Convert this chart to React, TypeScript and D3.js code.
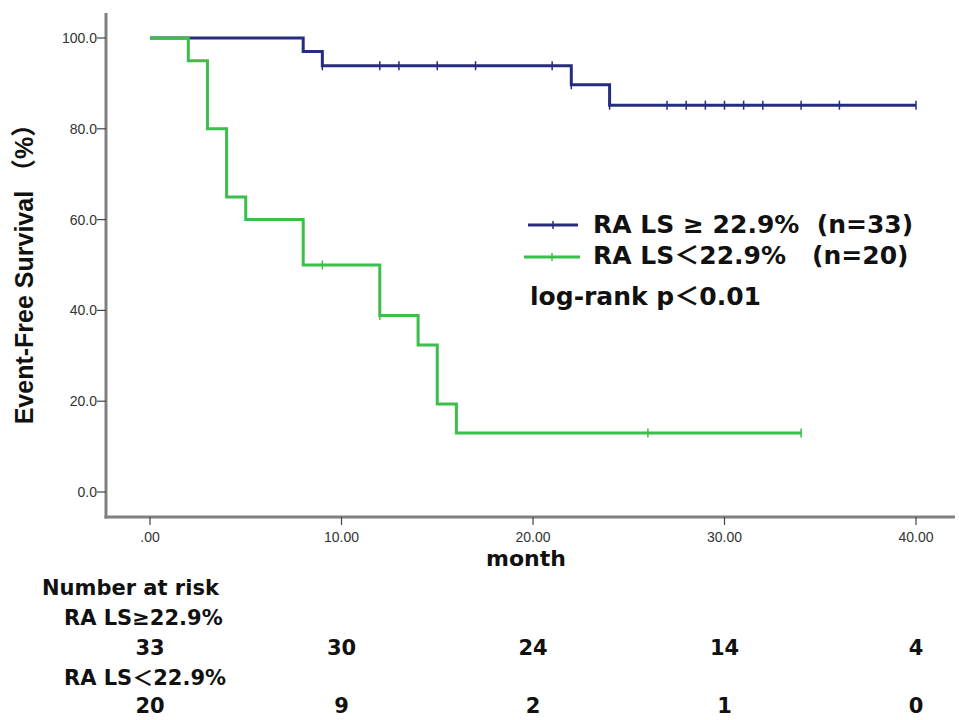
import React, { useEffect, useRef } from 'react';
import * as d3 from 'd3';

// Kaplan-Meier steps (month, survival %)
const highTimes = [0, 8, 9, 22, 24, 40];
const highSurv = [100, 97.0, 93.9, 89.7, 85.2, 85.2];
const highCensor = [9, 12, 13, 15, 17, 21, 22, 24, 27, 28, 29, 30, 31, 32, 34, 36, 40];

const lowTimes = [0, 2, 3, 4, 5, 8, 12, 14, 15, 16, 34];
const lowSurv = [100, 95, 80, 65, 60, 50, 38.9, 32.4, 19.4, 13.0, 13.0];
const lowCensor = [9, 12, 26, 34];

const xTicks = [0, 10, 20, 30, 40];
const yTicks = [0, 20, 40, 60, 80, 100];

const riskTimes = [0, 10, 20, 30, 40];
const highRisk = [33, 30, 24, 14, 4];
const lowRisk = [20, 9, 2, 1, 0];

const BLUE = "#262d7e";
const GREEN = "#3dbd4b";
const BOLD = "'DejaVu Sans', Verdana, 'Noto Sans CJK SC', sans-serif";
const ARIAL = "'Liberation Sans', Arial, 'Noto Sans CJK SC', sans-serif";

export default function App() {
  const svgRef = useRef<SVGSVGElement>(null);

  useEffect(() => {
    if (!svgRef.current) return;
    const svg = d3.select(svgRef.current);
    svg.selectAll("*").remove();

    const x = d3.scaleLinear().domain([0, 40]).range([150, 916]);
    const y = d3.scaleLinear().domain([0, 100]).range([492, 38]);

    const axisX = 106;
    const axisY = 517;

    // axes frame
    svg.append("line")
      .attr("x1", axisX).attr("x2", axisX).attr("y1", 13).attr("y2", axisY + 1.5)
      .attr("stroke", "#808080").attr("stroke-width", 3);
    svg.append("line")
      .attr("x1", axisX - 1.5).attr("x2", 955).attr("y1", axisY).attr("y2", axisY)
      .attr("stroke", "#808080").attr("stroke-width", 3);

    // y ticks
    const fmtY = d3.format(".1f");
    yTicks.forEach(t => {
      svg.append("line")
        .attr("x1", axisX - 9).attr("x2", axisX).attr("y1", y(t)).attr("y2", y(t))
        .attr("stroke", "#444").attr("stroke-width", 1.2);
      svg.append("text")
        .attr("x", axisX - 9).attr("y", y(t) + 5)
        .attr("text-anchor", "end")
        .attr("font-family", ARIAL).attr("font-size", 14).attr("fill", "#333")
        .text(fmtY(t));
    });

    // x ticks
    const fmtX = (v: number) => d3.format(".2f")(v).replace(/^0\./, ".");
    xTicks.forEach(t => {
      svg.append("line")
        .attr("x1", x(t)).attr("x2", x(t)).attr("y1", axisY).attr("y2", axisY + 8)
        .attr("stroke", "#444").attr("stroke-width", 1.2);
      svg.append("text")
        .attr("x", x(t)).attr("y", axisY + 25)
        .attr("text-anchor", "middle")
        .attr("font-family", ARIAL).attr("font-size", 14).attr("fill", "#333")
        .text(fmtX(t));
    });

    // survival curves
    const line = d3.line<[number, number]>()
      .x(d => x(d[0])).y(d => y(d[1]))
      .curve(d3.curveStepAfter);

    const survAt = (times: number[], surv: number[], t: number) => {
      let v = surv[0];
      times.forEach((tt, i) => { if (tt <= t) v = surv[i]; });
      return v;
    };

    const groups = [
      { times: highTimes, surv: highSurv, censor: highCensor, color: BLUE },
      { times: lowTimes, surv: lowSurv, censor: lowCensor, color: GREEN },
    ];

    groups.forEach(g => {
      const pts = g.times.map((t, i) => [t, g.surv[i]] as [number, number]);
      svg.append("path")
        .attr("d", line(pts))
        .attr("fill", "none")
        .attr("stroke", g.color)
        .attr("stroke-width", 3);
      g.censor.forEach(c => {
        const cy = y(survAt(g.times, g.surv, c));
        svg.append("line")
          .attr("x1", x(c)).attr("x2", x(c)).attr("y1", cy - 4.5).attr("y2", cy + 4.5)
          .attr("stroke", g.color).attr("stroke-width", 1.5);
      });
    });

    // legend
    const legend = [
      { color: BLUE, y: 225, x1: 528, x2: 578, textY: 233, label: "RA LS ≥ 22.9%  (n=33)" },
      { color: GREEN, y: 257, x1: 524, x2: 580, textY: 264, label: "RA LS＜22.9%   (n=20)" },
    ];
    legend.forEach(l => {
      svg.append("line")
        .attr("x1", l.x1).attr("x2", l.x2).attr("y1", l.y).attr("y2", l.y)
        .attr("stroke", l.color).attr("stroke-width", 3);
      svg.append("line")
        .attr("x1", (l.x1 + l.x2) / 2).attr("x2", (l.x1 + l.x2) / 2)
        .attr("y1", l.y - 4).attr("y2", l.y + 4)
        .attr("stroke", l.color).attr("stroke-width", 1.5);
      svg.append("text")
        .attr("x", 593).attr("y", l.textY)
        .attr("font-family", BOLD).attr("font-weight", "bold").attr("font-size", 25)
        .attr("fill", "#111")
        .style("white-space", "pre")
        .text(l.label);
    });

    svg.append("text")
      .attr("x", 530).attr("y", 305)
      .attr("font-family", BOLD).attr("font-weight", "bold").attr("font-size", 25)
      .attr("fill", "#111")
      .text("log-rank p＜0.01");

    // axis titles
    svg.append("text")
      .attr("transform", "translate(33,268) rotate(-90)")
      .attr("text-anchor", "middle")
      .attr("font-family", ARIAL).attr("font-weight", "bold").attr("font-size", 25)
      .attr("fill", "#111")
      .text("Event-Free Survival （%）");

    svg.append("text")
      .attr("x", 526).attr("y", 566)
      .attr("text-anchor", "middle")
      .attr("font-family", BOLD).attr("font-weight", "bold").attr("font-size", 22)
      .attr("fill", "#111")
      .text("month");

    // number at risk table
    const tbl = (tx: number, ty: number, s: string, anchor = "start") =>
      svg.append("text")
        .attr("x", tx).attr("y", ty)
        .attr("text-anchor", anchor)
        .attr("font-family", BOLD).attr("font-weight", "bold").attr("font-size", 21)
        .attr("fill", "#111")
        .text(s);

    tbl(42, 595, "Number at risk");
    tbl(64, 625, "RA LS≥22.9%");
    riskTimes.forEach((t, i) => tbl(x(t), 655, String(highRisk[i]), "middle"));
    tbl(64, 685, "RA LS＜22.9%");
    riskTimes.forEach((t, i) => tbl(x(t), 713, String(lowRisk[i]), "middle"));
  }, []);

  return (
    <div style={{ position: "absolute", left: 0, top: 0 }}>
      <svg ref={svgRef} width={959} height={720} style={{ display: "block", background: "#fff" }} />
    </div>
  );
}
